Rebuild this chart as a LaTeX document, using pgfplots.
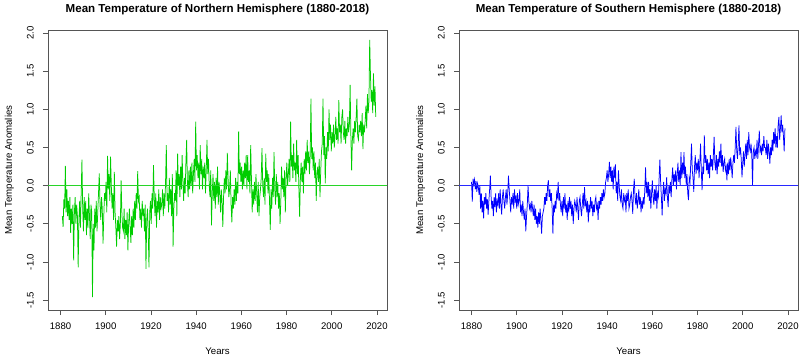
\documentclass[border=0pt]{standalone}
\usepackage{fontspec}
\setmainfont{Liberation Sans}
\usepackage{pgfplots}
\usepackage{pgfplotstable}
\pgfplotsset{compat=1.18}
\definecolor{ngreen}{RGB}{0,205,0}
\definecolor{sblue}{RGB}{0,0,255}
\definecolor{zgreen}{RGB}{40,212,40}
\definecolor{zblue}{RGB}{40,40,255}
\definecolor{axgray}{RGB}{85,85,85}

% Northern hemisphere: 3 values per year, starting 1880.8
\pgfplotstableread[header=false,row sep=\\]{
-0.40\\ -0.54\\ -0.18\\
-0.30\\ 0.26\\ -0.35\\
-0.05\\ -0.40\\ -0.20\\
-0.45\\ -0.15\\ -0.62\\
-0.30\\ -0.50\\ -0.25\\
-0.98\\ -0.35\\ -0.15\\
-0.50\\ -0.25\\ -0.40\\
-1.07\\ -0.45\\ -0.20\\
-0.55\\ -0.10\\ 0.34\\
-0.30\\ -0.60\\ -0.15\\
-0.45\\ -0.20\\ -0.65\\
-0.30\\ -0.55\\ -0.10\\
-0.40\\ -0.70\\ -0.25\\
-0.35\\ -1.46\\ -0.50\\
-0.85\\ -0.30\\ -0.55\\
-0.20\\ -0.60\\ -0.35\\
-0.10\\ 0.16\\ -0.25\\
-0.45\\ -0.15\\ -0.30\\
-0.76\\ -0.40\\ -0.10\\
-0.20\\ 0.05\\ -0.35\\
0.39\\ -0.05\\ 0.15\\
-0.20\\ 0.38\\ 0.00\\
-0.30\\ -0.10\\ -0.45\\
0.18\\ -0.35\\ -0.55\\
-0.80\\ -0.45\\ -0.60\\
-0.40\\ -0.70\\ -0.50\\
0.07\\ -0.35\\ -0.55\\
-0.60\\ -0.30\\ -0.70\\
-0.45\\ -0.65\\ -0.35\\
-0.85\\ -0.50\\ -0.30\\
-0.55\\ -0.75\\ -0.40\\
-0.65\\ -0.30\\ -0.55\\
-0.20\\ -0.45\\ -0.10\\
-0.30\\ 0.19\\ -0.20\\
-0.15\\ -0.45\\ -0.30\\
-0.55\\ -0.20\\ -0.40\\
-0.30\\ -0.60\\ -0.25\\
-1.09\\ -0.45\\ -0.30\\
-0.60\\ -1.07\\ -0.35\\
-0.20\\ -0.50\\ -0.10\\
-0.30\\ 0.27\\ -0.15\\
-0.40\\ -0.10\\ -0.55\\
-0.20\\ -0.35\\ -0.05\\
-0.45\\ -0.15\\ -0.30\\
-0.25\\ -0.05\\ -0.40\\
-0.10\\ -0.30\\ 0.05\\
0.53\\ -0.20\\ -0.10\\
-0.35\\ 0.10\\ -0.25\\
-0.05\\ -0.40\\ 0.15\\
-0.80\\ -0.30\\ -0.10\\
-0.20\\ 0.20\\ -0.40\\
0.42\\ 0.00\\ 0.15\\
-0.15\\ 0.25\\ -0.05\\
0.40\\ 0.05\\ -0.20\\
0.10\\ -0.10\\ 0.30\\
0.60\\ 0.05\\ -0.15\\
0.20\\ -0.05\\ 0.25\\
0.00\\ 0.30\\ -0.10\\
0.15\\ 0.35\\ 0.05\\
0.84\\ 0.20\\ 0.40\\
0.10\\ 0.30\\ -0.05\\
0.53\\ 0.15\\ 0.35\\
-0.05\\ 0.25\\ 0.10\\
0.30\\ -0.10\\ 0.20\\
0.60\\ 0.15\\ 0.35\\
0.00\\ -0.15\\ 0.20\\
-0.52\\ -0.10\\ 0.15\\
-0.20\\ 0.05\\ -0.30\\
0.10\\ -0.15\\ 0.25\\
-0.25\\ 0.05\\ -0.10\\
-0.35\\ -0.05\\ -0.20\\
-0.54\\ -0.15\\ 0.10\\
-0.10\\ 0.20\\ -0.05\\
0.43\\ 0.10\\ -0.15\\
-0.05\\ 0.20\\ -0.25\\
-0.48\\ -0.15\\ -0.30\\
-0.05\\ -0.25\\ 0.10\\
-0.20\\ 0.05\\ -0.10\\
0.71\\ 0.15\\ 0.30\\
0.05\\ 0.25\\ -0.05\\
0.20\\ 0.00\\ 0.30\\
0.10\\ 0.40\\ -0.05\\
0.40\\ 0.05\\ 0.20\\
-0.10\\ 0.53\\ 0.10\\
-0.35\\ -0.05\\ -0.25\\
0.05\\ -0.20\\ 0.15\\
-0.10\\ -0.35\\ 0.05\\
-0.40\\ -0.15\\ -0.05\\
0.10\\ 0.49\\ 0.00\\
-0.15\\ 0.10\\ -0.25\\
0.42\\ 0.05\\ 0.20\\
-0.10\\ 0.15\\ -0.20\\
-0.58\\ -0.05\\ -0.30\\
0.10\\ -0.15\\ 0.44\\
-0.05\\ -0.25\\ 0.15\\
-0.15\\ 0.05\\ -0.30\\
-0.10\\ -0.50\\ -0.20\\
0.25\\ -0.05\\ 0.10\\
-0.15\\ 0.20\\ -0.35\\
0.10\\ 0.30\\ 0.00\\
0.15\\ 0.35\\ 0.05\\
0.84\\ 0.25\\ 0.40\\
0.10\\ 0.55\\ 0.20\\
0.30\\ 0.05\\ 0.60\\
0.15\\ 0.40\\ -0.05\\
-0.41\\ 0.10\\ 0.30\\
0.05\\ 0.25\\ -0.10\\
0.35\\ 0.15\\ 0.45\\
0.20\\ 0.60\\ 0.30\\
0.45\\ 0.15\\ 0.40\\
1.14\\ 0.35\\ 0.50\\
0.20\\ 0.45\\ 0.10\\
0.30\\ -0.20\\ 0.15\\
0.25\\ 0.05\\ 0.35\\
-0.15\\ 0.20\\ 0.45\\
0.55\\ 1.14\\ 0.40\\
0.65\\ 0.03\\ 0.50\\
0.35\\ 0.70\\ 0.45\\
1.00\\ 0.60\\ 0.80\\
0.45\\ 0.70\\ 0.55\\
0.80\\ 0.50\\ 0.65\\
0.90\\ 0.60\\ 0.75\\
0.55\\ 1.12\\ 0.70\\
0.80\\ 0.55\\ 0.90\\
1.00\\ 0.70\\ 0.60\\
0.85\\ 0.55\\ 0.75\\
0.65\\ 0.90\\ 0.70\\
0.80\\ 1.32\\ 0.65\\
0.20\\ 0.60\\ 0.75\\
0.55\\ 0.85\\ 0.70\\
0.90\\ 1.14\\ 0.65\\
0.60\\ 0.80\\ 0.70\\
0.85\\ 0.65\\ 0.95\\
0.48\\ 0.80\\ 0.70\\
0.85\\ 1.05\\ 0.75\\
1.20\\ 0.95\\ 1.10\\
1.91\\ 1.45\\ 1.10\\
1.25\\ 0.95\\ 1.47\\
1.05\\ 1.30\\ 0.90\\
}\nhdata

% Southern hemisphere: 3 values per year, starting 1880.0
\pgfplotstableread[header=false,row sep=\\]{
0.05\\ -0.21\\ 0.09\\
0.02\\ 0.08\\ -0.05\\
0.06\\ -0.08\\ 0.03\\
-0.02\\ -0.12\\ 0.00\\
-0.30\\ -0.10\\ -0.35\\
-0.20\\ -0.43\\ -0.15\\
-0.25\\ -0.10\\ -0.30\\
-0.18\\ -0.38\\ -0.20\\
-0.05\\ 0.13\\ -0.15\\
-0.30\\ -0.20\\ -0.40\\
-0.15\\ -0.28\\ -0.10\\
-0.35\\ -0.20\\ -0.25\\
-0.10\\ -0.30\\ -0.05\\
-0.25\\ -0.38\\ -0.15\\
-0.05\\ -0.20\\ -0.30\\
-0.15\\ -0.05\\ -0.25\\
-0.10\\ 0.13\\ -0.05\\
-0.20\\ -0.35\\ -0.15\\
-0.25\\ -0.10\\ -0.30\\
-0.05\\ -0.20\\ -0.15\\
-0.30\\ -0.10\\ -0.25\\
-0.20\\ -0.05\\ -0.35\\
-0.25\\ -0.40\\ -0.20\\
-0.35\\ -0.45\\ -0.30\\
-0.60\\ -0.40\\ -0.25\\
0.00\\ -0.20\\ -0.30\\
-0.25\\ -0.35\\ -0.20\\
-0.30\\ -0.40\\ -0.25\\
-0.45\\ -0.30\\ -0.50\\
-0.40\\ -0.55\\ -0.35\\
-0.50\\ -0.30\\ -0.45\\
-0.63\\ -0.40\\ -0.35\\
-0.30\\ -0.15\\ -0.25\\
-0.10\\ -0.20\\ 0.00\\
0.07\\ -0.15\\ -0.05\\
-0.20\\ -0.10\\ -0.30\\
-0.63\\ -0.25\\ -0.35\\
-0.20\\ -0.30\\ -0.10\\
-0.15\\ 0.05\\ -0.20\\
-0.10\\ -0.25\\ -0.35\\
-0.20\\ -0.40\\ -0.15\\
-0.30\\ -0.10\\ -0.35\\
-0.25\\ -0.45\\ -0.20\\
-0.35\\ -0.15\\ -0.30\\
-0.20\\ -0.40\\ -0.25\\
-0.50\\ -0.30\\ -0.20\\
-0.25\\ -0.35\\ -0.15\\
-0.30\\ -0.45\\ -0.20\\
-0.15\\ -0.30\\ -0.40\\
-0.25\\ -0.10\\ -0.30\\
-0.02\\ -0.25\\ -0.20\\
-0.35\\ -0.20\\ -0.48\\
-0.25\\ -0.35\\ -0.15\\
-0.30\\ -0.20\\ -0.40\\
-0.25\\ -0.35\\ -0.20\\
-0.15\\ -0.30\\ -0.25\\
-0.45\\ -0.20\\ -0.30\\
-0.15\\ -0.25\\ -0.10\\
-0.20\\ -0.05\\ -0.15\\
-0.10\\ 0.05\\ 0.10\\
0.20\\ 0.05\\ 0.15\\
0.31\\ 0.10\\ 0.25\\
0.05\\ 0.20\\ -0.05\\
0.25\\ 0.10\\ 0.28\\
-0.10\\ 0.05\\ -0.20\\
0.20\\ 0.00\\ -0.15\\
-0.20\\ -0.05\\ -0.25\\
-0.30\\ -0.10\\ -0.20\\
-0.15\\ -0.35\\ -0.10\\
-0.20\\ -0.05\\ -0.30\\
-0.25\\ -0.15\\ -0.10\\
-0.20\\ -0.37\\ -0.05\\
0.09\\ -0.15\\ -0.25\\
-0.10\\ -0.30\\ -0.20\\
-0.05\\ -0.25\\ -0.15\\
-0.35\\ -0.20\\ -0.30\\
-0.15\\ -0.25\\ -0.05\\
0.24\\ -0.10\\ 0.05\\
-0.15\\ 0.05\\ -0.20\\
-0.05\\ -0.30\\ -0.10\\
0.07\\ -0.15\\ -0.25\\
-0.05\\ -0.20\\ 0.00\\
-0.30\\ -0.10\\ -0.15\\
0.10\\ 0.34\\ 0.05\\
-0.15\\ -0.39\\ -0.10\\
0.05\\ -0.20\\ -0.05\\
-0.10\\ 0.11\\ -0.15\\
-0.28\\ 0.00\\ -0.10\\
0.05\\ -0.15\\ 0.10\\
0.24\\ 0.00\\ 0.15\\
0.05\\ 0.20\\ -0.05\\
0.15\\ 0.30\\ 0.05\\
0.20\\ 0.00\\ 0.44\\
0.10\\ 0.30\\ 0.15\\
0.44\\ 0.10\\ 0.25\\
0.00\\ 0.15\\ -0.10\\
-0.19\\ 0.10\\ 0.05\\
0.30\\ 0.55\\ 0.20\\
0.10\\ -0.08\\ 0.25\\
0.40\\ 0.15\\ 0.30\\
0.20\\ 0.35\\ 0.10\\
0.30\\ 0.55\\ 0.20\\
-0.06\\ 0.25\\ 0.15\\
0.66\\ 0.30\\ 0.40\\
0.20\\ 0.35\\ 0.15\\
0.30\\ 0.10\\ 0.40\\
0.25\\ 0.35\\ 0.20\\
0.40\\ 0.64\\ 0.30\\
0.20\\ 0.40\\ 0.15\\
0.35\\ 0.25\\ 0.45\\
0.30\\ 0.55\\ 0.25\\
0.40\\ 0.18\\ 0.30\\
0.35\\ 0.20\\ 0.25\\
0.07\\ 0.30\\ 0.15\\
0.35\\ 0.20\\ 0.37\\
0.25\\ 0.10\\ 0.30\\
0.40\\ 0.30\\ 0.50\\
0.77\\ 0.45\\ 0.35\\
0.55\\ 0.79\\ 0.40\\
0.50\\ 0.35\\ 0.11\\
0.30\\ 0.45\\ 0.25\\
0.40\\ 0.55\\ 0.35\\
0.60\\ 0.40\\ 0.70\\
0.50\\ 0.45\\ 0.55\\
0.40\\ 0.00\\ 0.45\\
0.50\\ 0.35\\ 0.45\\
0.40\\ 0.60\\ 0.35\\
0.55\\ 0.72\\ 0.45\\
0.50\\ 0.40\\ 0.55\\
0.45\\ 0.65\\ 0.50\\
0.50\\ 0.40\\ 0.60\\
0.35\\ 0.55\\ 0.45\\
0.29\\ 0.50\\ 0.40\\
0.60\\ 0.45\\ 0.70\\
0.55\\ 0.75\\ 0.50\\
0.65\\ 0.50\\ 0.80\\
0.90\\ 0.60\\ 0.75\\
0.92\\ 0.70\\ 0.80\\
0.65\\ 0.45\\ 0.75\\
}\shdata

\newcommand{\rl}[1]{\rotatebox{90}{#1}}
\pgfplotsset{rstyle/.style={
  scale only axis, width=339bp, height=280bp,
  xmin=1874.45, xmax=2024.45, ymin=-1.63, ymax=2.04,
  axis line style={axgray, line width=0.9bp},
  xtick={1880,1900,1920,1940,1960,1980,2000,2020},
  xticklabels={1880,1900,1920,1940,1960,1980,2000,2020},
  ytick={-1.5,-1,-0.5,0,0.5,1,1.5,2},
  yticklabels={\rl{-1.5},\rl{-1.0},\rl{-0.5},\rl{0.0},\rl{0.5},\rl{1.0},\rl{1.5},\rl{2.0}},
  tick align=outside, major tick length=5bp,
  tick style={axgray, line width=0.8bp},
  xtick pos=left, ytick pos=left,
  tick label style={font=\fontsize{9.6}{11}\selectfont, inner sep=0pt},
  xticklabel style={anchor=base, yshift=-14bp},
  yticklabel style={anchor=east, xshift=-9bp},
  every axis title shift=0pt,
  title style={at={(axis description cs:0.5,1.0625)}, anchor=base, inner sep=0pt,
    font=\bfseries\fontsize{11.6}{13}\selectfont},
  xlabel style={at={(axis description cs:0.5,-0.159)}, anchor=base, inner sep=0pt,
    font=\fontsize{9.7}{11}\selectfont},
  ylabel style={at={(axis description cs:-0.1062,0.5)}, anchor=base, inner sep=0pt,
    font=\fontsize{9.7}{11}\selectfont},
  xlabel={Years}, ylabel={Mean Temperature Anomalies},
}}

\begin{document}
\begin{tikzpicture}
\useasboundingbox (0,0) rectangle (803bp,357bp);
\begin{axis}[rstyle, at={(48bp,47bp)}, anchor=south west,
  title={Mean Temperature of Northern Hemisphere (1880-2018)}]
  \addplot[color=ngreen, line width=0.75bp] table[x expr={1880.8+\coordindex/3}, y index=0] {\nhdata};
  \addplot[color=zgreen, line width=1.1bp] table[row sep=\\] {x y\\ 1874.45 0\\ 2024.45 0\\};
\end{axis}
\begin{axis}[rstyle, at={(459bp,47bp)}, anchor=south west,
  title={Mean Temperature of Southern Hemisphere (1880-2018)}]
  \addplot[color=sblue, line width=0.75bp] table[x expr={1880+\coordindex/3}, y index=0] {\shdata};
  \addplot[color=zblue, line width=1.1bp] table[row sep=\\] {x y\\ 1874.45 0\\ 2024.45 0\\};
\end{axis}
\end{tikzpicture}
\end{document}
